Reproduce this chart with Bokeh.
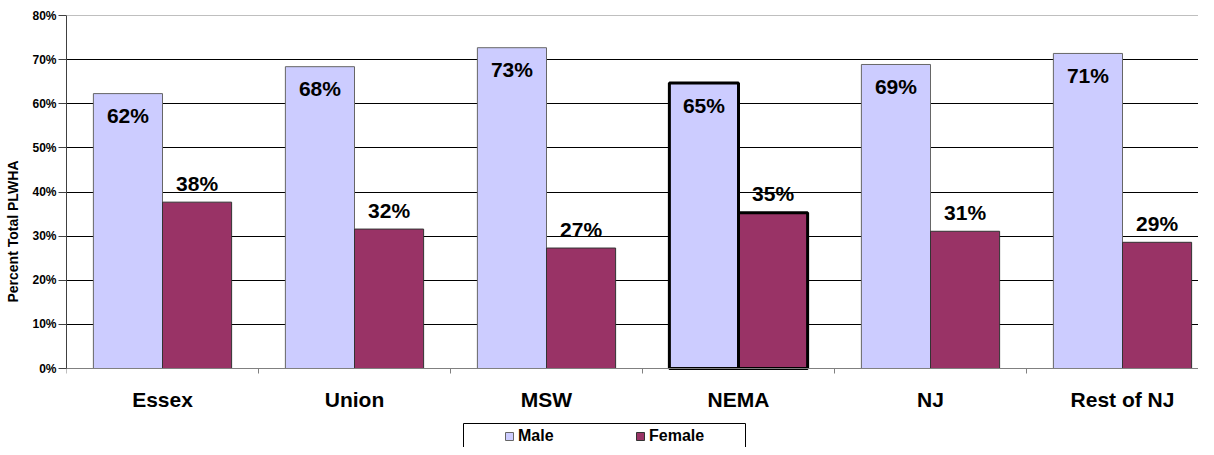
import numpy as np
from bokeh.plotting import figure
from bokeh.models import (ColumnDataSource, Range1d, FixedTicker, Legend,
                          LegendItem, BoxAnnotation, Span)
from bokeh.core.properties import value
from bokeh.embed import file_html
from bokeh.resources import INLINE

# ---------------- data ----------------
categories = ["Essex", "Union", "MSW", "NEMA", "NJ", "Rest of NJ"]
male = [62.3, 68.4, 72.7, 64.7, 68.9, 71.4]
female = [37.7, 31.6, 27.3, 35.3, 31.1, 28.6]
series_names = ["Male", "Female"]
y_ticks = [0, 10, 20, 30, 40, 50, 60, 70, 80]
y_tick_labels = ["0%", "10%", "20%", "30%", "40%", "50%", "60%", "70%", "80%"]
y_title = "Percent Total PLWHA"
highlight = "NEMA"

# ---------------- layout / styling ----------------
FONT = "Liberation Sans"
MALE_COLOR = "#CCCCFF"
FEMALE_COLOR = "#993366"
BW = 0.36
W, H = 1198, 447
LEFT, TOP, ZERO_Y = 66, 15, 368      # frame left, 80% line, 0% line (px)
CAT_PX = 192                          # pixel width of one category

px_per_unit = (ZERO_Y - TOP) / y_ticks[-1]
y_start = -(H - ZERO_Y) / px_per_unit

xc = np.arange(len(categories)) + 0.5
src = ColumnDataSource(dict(
    x_m=xc - BW / 2,
    x_f=xc + BW / 2,
    male=male,
    female=female,
    lab_m=[f"{round(v)}%" for v in male],
    lab_f=[f"{round(v)}%" for v in female],
    lw=[3 if c == highlight else 1 for c in categories],
    lc_m=["black" if c == highlight else "#666666" for c in categories],
    lc_f=["black" if c == highlight else "#333333" for c in categories],
))

p = figure(width=W, height=H,
           x_range=Range1d(0, (W - LEFT) / CAT_PX),
           y_range=Range1d(y_start, y_ticks[-1]),
           output_backend="svg", toolbar_location=None,
           min_border_left=LEFT, min_border_right=0,
           min_border_top=TOP, min_border_bottom=0)

p.background_fill_color = "white"
p.border_fill_color = "white"
p.outline_line_color = None

# grid
p.xgrid.visible = False
p.ygrid.ticker = FixedTicker(ticks=y_ticks[1:-1])
p.ygrid.grid_line_color = "black"
p.ygrid.grid_line_width = 1
p.add_layout(Span(location=y_ticks[-1], dimension="width",
                  line_color="#808080", line_width=1))

rm = p.vbar(x="x_m", top="male", width=BW, bottom=0, source=src,
            fill_color=MALE_COLOR, line_color="lc_m", line_width="lw")
rf = p.vbar(x="x_f", top="female", width=BW, bottom=0, source=src,
            fill_color=FEMALE_COLOR, line_color="lc_f", line_width="lw")

p.text(x="x_m", y="male", text="lab_m", source=src, text_align="center",
       text_baseline="middle", y_offset=22, text_font=value(FONT),
       text_font_style="bold", text_font_size="21px", text_color="black")
p.text(x="x_f", y="female", text="lab_f", source=src, text_align="center",
       text_baseline="middle", y_offset=-19, text_font=value(FONT),
       text_font_style="bold", text_font_size="21px", text_color="black")

# x axis (pinned at y = 0 inside the extended frame)
xa = p.xaxis[0]
xa.fixed_location = 0
xa.ticker = FixedTicker(ticks=[float(v) for v in xc],
                        minor_ticks=list(range(0, len(categories))))
xa.major_label_overrides = {float(v): c for v, c in zip(xc, categories)}
xa.major_tick_line_color = None
xa.major_tick_out = 0
xa.major_tick_in = 0
xa.minor_tick_out = 5
xa.minor_tick_in = 0
xa.minor_tick_line_color = "#808080"
xa.axis_line_color = "#808080"
xa.major_label_text_font = FONT
xa.major_label_text_font_style = "bold"
xa.major_label_text_font_size = "21px"
xa.major_label_text_color = "black"
xa.major_label_standoff = 14

# y axis
ya = p.yaxis[0]
ya.bounds = (y_ticks[0], y_ticks[-1])
ya.ticker = FixedTicker(ticks=y_ticks)
ya.major_label_overrides = {t: l for t, l in zip(y_ticks, y_tick_labels)}
ya.major_tick_out = 8
ya.major_tick_in = 0
ya.minor_tick_line_color = None
ya.major_tick_line_color = "#404040"
ya.axis_line_color = "#404040"
ya.major_label_text_font = FONT
ya.major_label_text_font_style = "bold"
ya.major_label_text_font_size = "12px"
ya.major_label_text_color = "black"
ya.major_label_standoff = 2
ya.axis_label = y_title
ya.axis_label_text_font = FONT
ya.axis_label_text_font_style = "bold"
ya.axis_label_text_font_size = "14px"
ya.axis_label_text_color = "black"
ya.axis_label_standoff = 8

# legend (inside the extended frame, below the x axis)
legend = Legend(items=[LegendItem(label=series_names[0], renderers=[rm]),
                       LegendItem(label=series_names[1], renderers=[rf])],
                orientation="horizontal", location=(504 - LEFT, H - 446),
                padding=0, margin=0, spacing=57,
                glyph_width=10, glyph_height=10, label_standoff=4,
                label_width=60, label_height=20,
                label_text_font=FONT, label_text_font_style="bold",
                label_text_font_size="16px", label_text_color="black",
                border_line_color=None, background_fill_alpha=0)
p.add_layout(legend)

box = BoxAnnotation(left=463 - LEFT, right=745 - LEFT,
                    top=H - 423, bottom=-6,
                    left_units="screen", right_units="screen",
                    top_units="screen", bottom_units="screen",
                    fill_alpha=0, fill_color=None,
                    line_color="black", line_width=1, line_alpha=1)
p.add_layout(box)

open("out.html", "w").write(file_html(p, INLINE))
